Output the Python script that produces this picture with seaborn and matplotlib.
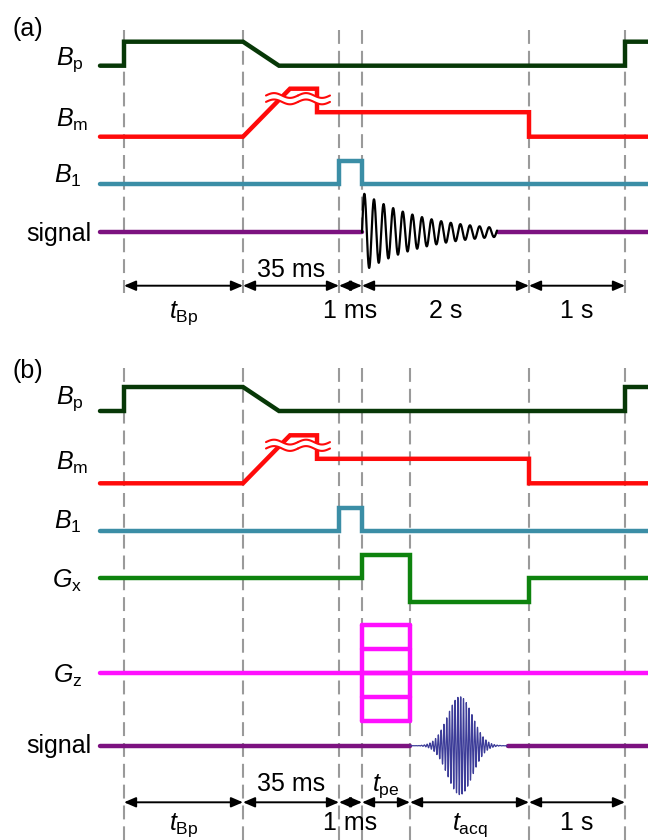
import numpy as np
import pandas as pd
import matplotlib
matplotlib.use("Agg")
import matplotlib.pyplot as plt
import seaborn as sns

sns.set_theme(style="white")
plt.rcParams["font.family"] = ["Liberation Sans", "DejaVu Sans"]
plt.rcParams["mathtext.fontset"] = "custom"
plt.rcParams["mathtext.rm"] = "Liberation Sans"
plt.rcParams["mathtext.it"] = "Liberation Sans:italic"
plt.rcParams["mathtext.bf"] = "Liberation Sans:bold"
plt.rcParams["lines.scale_dashes"] = False

# ---------------- data (schematic timing positions and levels) ----------------
t_start, t_end = 100, 648
t_bp_on, t_bp_off, t_ramp_end = 124, 243, 279
t_bm_top0, t_bm_top1 = 290, 317
t_rf0, t_rf1 = 339, 362
t_pe_end = 410
t_acq_end = 529
t_rep = 625
t_fid_end, t_sig_a_resume = 497, 498
t_echo_end, t_sig_b_resume = 507, 508

bp_x = [t_start, t_bp_on, t_bp_on, t_bp_off, t_ramp_end, t_rep, t_rep, t_end]
bp_lvl = [0, 0, 24, 24, 0, 0, 24, 24]
bm_x = [t_start, t_bp_off, t_bm_top0, t_bm_top1, t_bm_top1, t_acq_end, t_acq_end, t_end]
bm_lvl = [0, 0, 48, 48, 24.5, 24.5, 0, 0]
b1_x = [t_start, t_rf0, t_rf0, t_rf1, t_rf1, t_end]
b1_lvl = [0, 0, 23.5, 23.5, 0, 0]
gx_x = [t_start, t_rf1, t_rf1, t_pe_end, t_pe_end, t_acq_end, t_acq_end, t_end]
gx_lvl = [0, 0, 23.5, 23.5, -24, -24, 0, 0]
gz_steps = [-48, -24, 0, 24, 48]

rows_a = {"Bp": 65.7, "Bm": 136.7, "B1": 184.3, "signal": 232.3}
rows_b = {"Bp": 411.0, "Bm": 483.3, "B1": 531.0, "Gx": 578.3, "Gz": 673.3, "signal": 745.7}

events_a = [124, 243, 339, 362, 529, 625]
events_b = [124, 243, 339, 362, 410, 529, 625]

intervals_a = [(124, 243, r"$t_{\mathrm{Bp}}$", "below"), (243, 339, "35 ms", "above"),
               (339, 362, "1 ms", "below"), (362, 529, "2 s", "below"),
               (529, 625, "1 s", "below")]
intervals_b = [(124, 243, r"$t_{\mathrm{Bp}}$", "below"), (243, 339, "35 ms", "above"),
               (339, 362, "1 ms", "below"), (362, 410, r"$t_{\mathrm{pe}}$", "above"),
               (410, 529, r"$t_{\mathrm{acq}}$", "below"), (529, 625, "1 s", "below")]

labels = {"Bp": r"$B_{\mathrm{p}}$", "Bm": r"$B_{\mathrm{m}}$", "B1": r"$B_{1}$",
          "Gx": r"$G_{\mathrm{x}}$", "Gz": r"$G_{\mathrm{z}}$", "signal": "signal"}

# FID / echo shape parameters
fid_amp, fid_decay, fid_period = 40, 62, 9.6
echo_amp, echo_center, echo_sigma, echo_period = 49, 460, 12.5, 2.8

colors = {"Bp": "#073807", "Bm": "#ff0a0a", "B1": "#3b8ea6", "Gx": "#0e830e",
          "Gz": "#ff10ff", "signal": "#7c1280", "fid": "#000000", "echo": "#3d3d99",
          "dash": "#9a9a9a"}

# ---------------- figure ----------------
fig = plt.figure(figsize=(6.48, 8.4), dpi=100)
ax = fig.add_axes([0, 0, 1, 1])
LW = 3.2
FS = 18


def trace(xs, lv, row, color, lw=LW, z=2):
    df = pd.DataFrame({"x": xs, "y": [row - v for v in lv]})
    sns.lineplot(data=df, x="x", y="y", sort=False, estimator=None, color=color,
                 lw=lw, ax=ax, zorder=z, solid_capstyle="round",
                 solid_joinstyle="miter")


def brk(cx, cy):
    u = np.linspace(-16, 16, 80)
    w = 2.4 * np.sin(2 * np.pi * u / 32)
    ax.fill_between(cx + u, cy - 3.2 + w, cy + 3.2 + w, color="white", zorder=4, lw=0)
    ax.plot(cx + u, cy - 3.2 + w, color=colors["Bm"], lw=1.5, zorder=5)
    ax.plot(cx + u, cy + 3.2 + w, color=colors["Bm"], lw=1.5, zorder=5)


def panel(rows, events, intervals, ytop, ybot, arrow_y, above_base, below_base, tag, tag_y, gradients):
    trace(bp_x, bp_lvl, rows["Bp"], colors["Bp"])
    trace(bm_x, bm_lvl, rows["Bm"], colors["Bm"])
    brk(282, rows["Bm"] - 38)
    brk(314, rows["Bm"] - 38)
    trace(b1_x, b1_lvl, rows["B1"], colors["B1"])
    if gradients:
        trace(gx_x, gx_lvl, rows["Gx"], colors["Gx"])
        trace([t_start, t_end], [0, 0], rows["Gz"], colors["Gz"])
        for s in gz_steps:
            trace([t_rf1, t_pe_end], [s, s], rows["Gz"], colors["Gz"])
        trace([t_rf1, t_rf1], [gz_steps[0], gz_steps[-1]], rows["Gz"], colors["Gz"])
        trace([t_pe_end, t_pe_end], [gz_steps[0], gz_steps[-1]], rows["Gz"], colors["Gz"])
        # signal with echo
        trace([t_start, t_pe_end], [0, 0], rows["signal"], colors["signal"])
        trace([t_sig_b_resume, t_end], [0, 0], rows["signal"], colors["signal"])
        ex = np.linspace(t_pe_end, t_echo_end, 3000)
        ey = rows["signal"] - echo_amp * np.exp(-0.5 * ((ex - echo_center) / echo_sigma) ** 2) \
            * np.sin(2 * np.pi * (ex - echo_center) / echo_period)
        ax.plot(ex, ey, color=colors["echo"], lw=0.9, zorder=2)
    else:
        trace([t_start, t_rf1], [0, 0], rows["signal"], colors["signal"])
        trace([t_sig_a_resume, t_end], [0, 0], rows["signal"], colors["signal"])
        fx = np.linspace(t_rf1, t_fid_end, 1500)
        u = fx - t_rf1
        fy = rows["signal"] - fid_amp * np.exp(-u / fid_decay) * np.sin(2 * np.pi * u / fid_period)
        ax.plot(fx, fy, color=colors["fid"], lw=1.6, zorder=2)

    for x in events:
        ax.plot([x, x], [ytop, ybot], color=colors["dash"], lw=1.5, dashes=(10, 5), zorder=1.5)

    for x0, x1, lab, pos in intervals:
        ax.annotate("", xy=(x1, arrow_y), xytext=(x0, arrow_y),
                    arrowprops=dict(arrowstyle="<|-|>,head_length=0.7,head_width=0.3",
                                    color="black", lw=1.4, shrinkA=0, shrinkB=0,
                                    mutation_scale=10), zorder=3)
        ax.text((x0 + x1) / 2, above_base if pos == "above" else below_base, lab,
                ha="center", va="baseline", fontsize=FS, color="black")

    ax.text(28, tag_y, tag, ha="center", va="center", fontsize=FS, color="black")


panel(rows_a, events_a, intervals_a, 30, 293, 285.7, 277, 318, "(a)", 29, False)
panel(rows_b, events_b, intervals_b, 368, 842, 802.3, 791, 830, "(b)", 371, True)

# channel labels (right edge, baseline)
label_pos_a = {"Bp": (84, 65), "Bm": (88, 126.7), "B1": (82, 183), "signal": (91, 241.5)}
label_pos_b = {"Bp": (84, 404), "Bm": (88, 470), "B1": (82, 529), "Gx": (82, 588),
               "Gz": (82, 683), "signal": (91, 753)}
for pos in (label_pos_a, label_pos_b):
    for k, (x, y) in pos.items():
        ax.text(x, y, labels[k], ha="right", va="baseline", fontsize=FS, color="black")

ax.set_xlim(0, 648)
ax.set_ylim(840, 0)
ax.axis("off")
fig.savefig("out.png", dpi=100)
